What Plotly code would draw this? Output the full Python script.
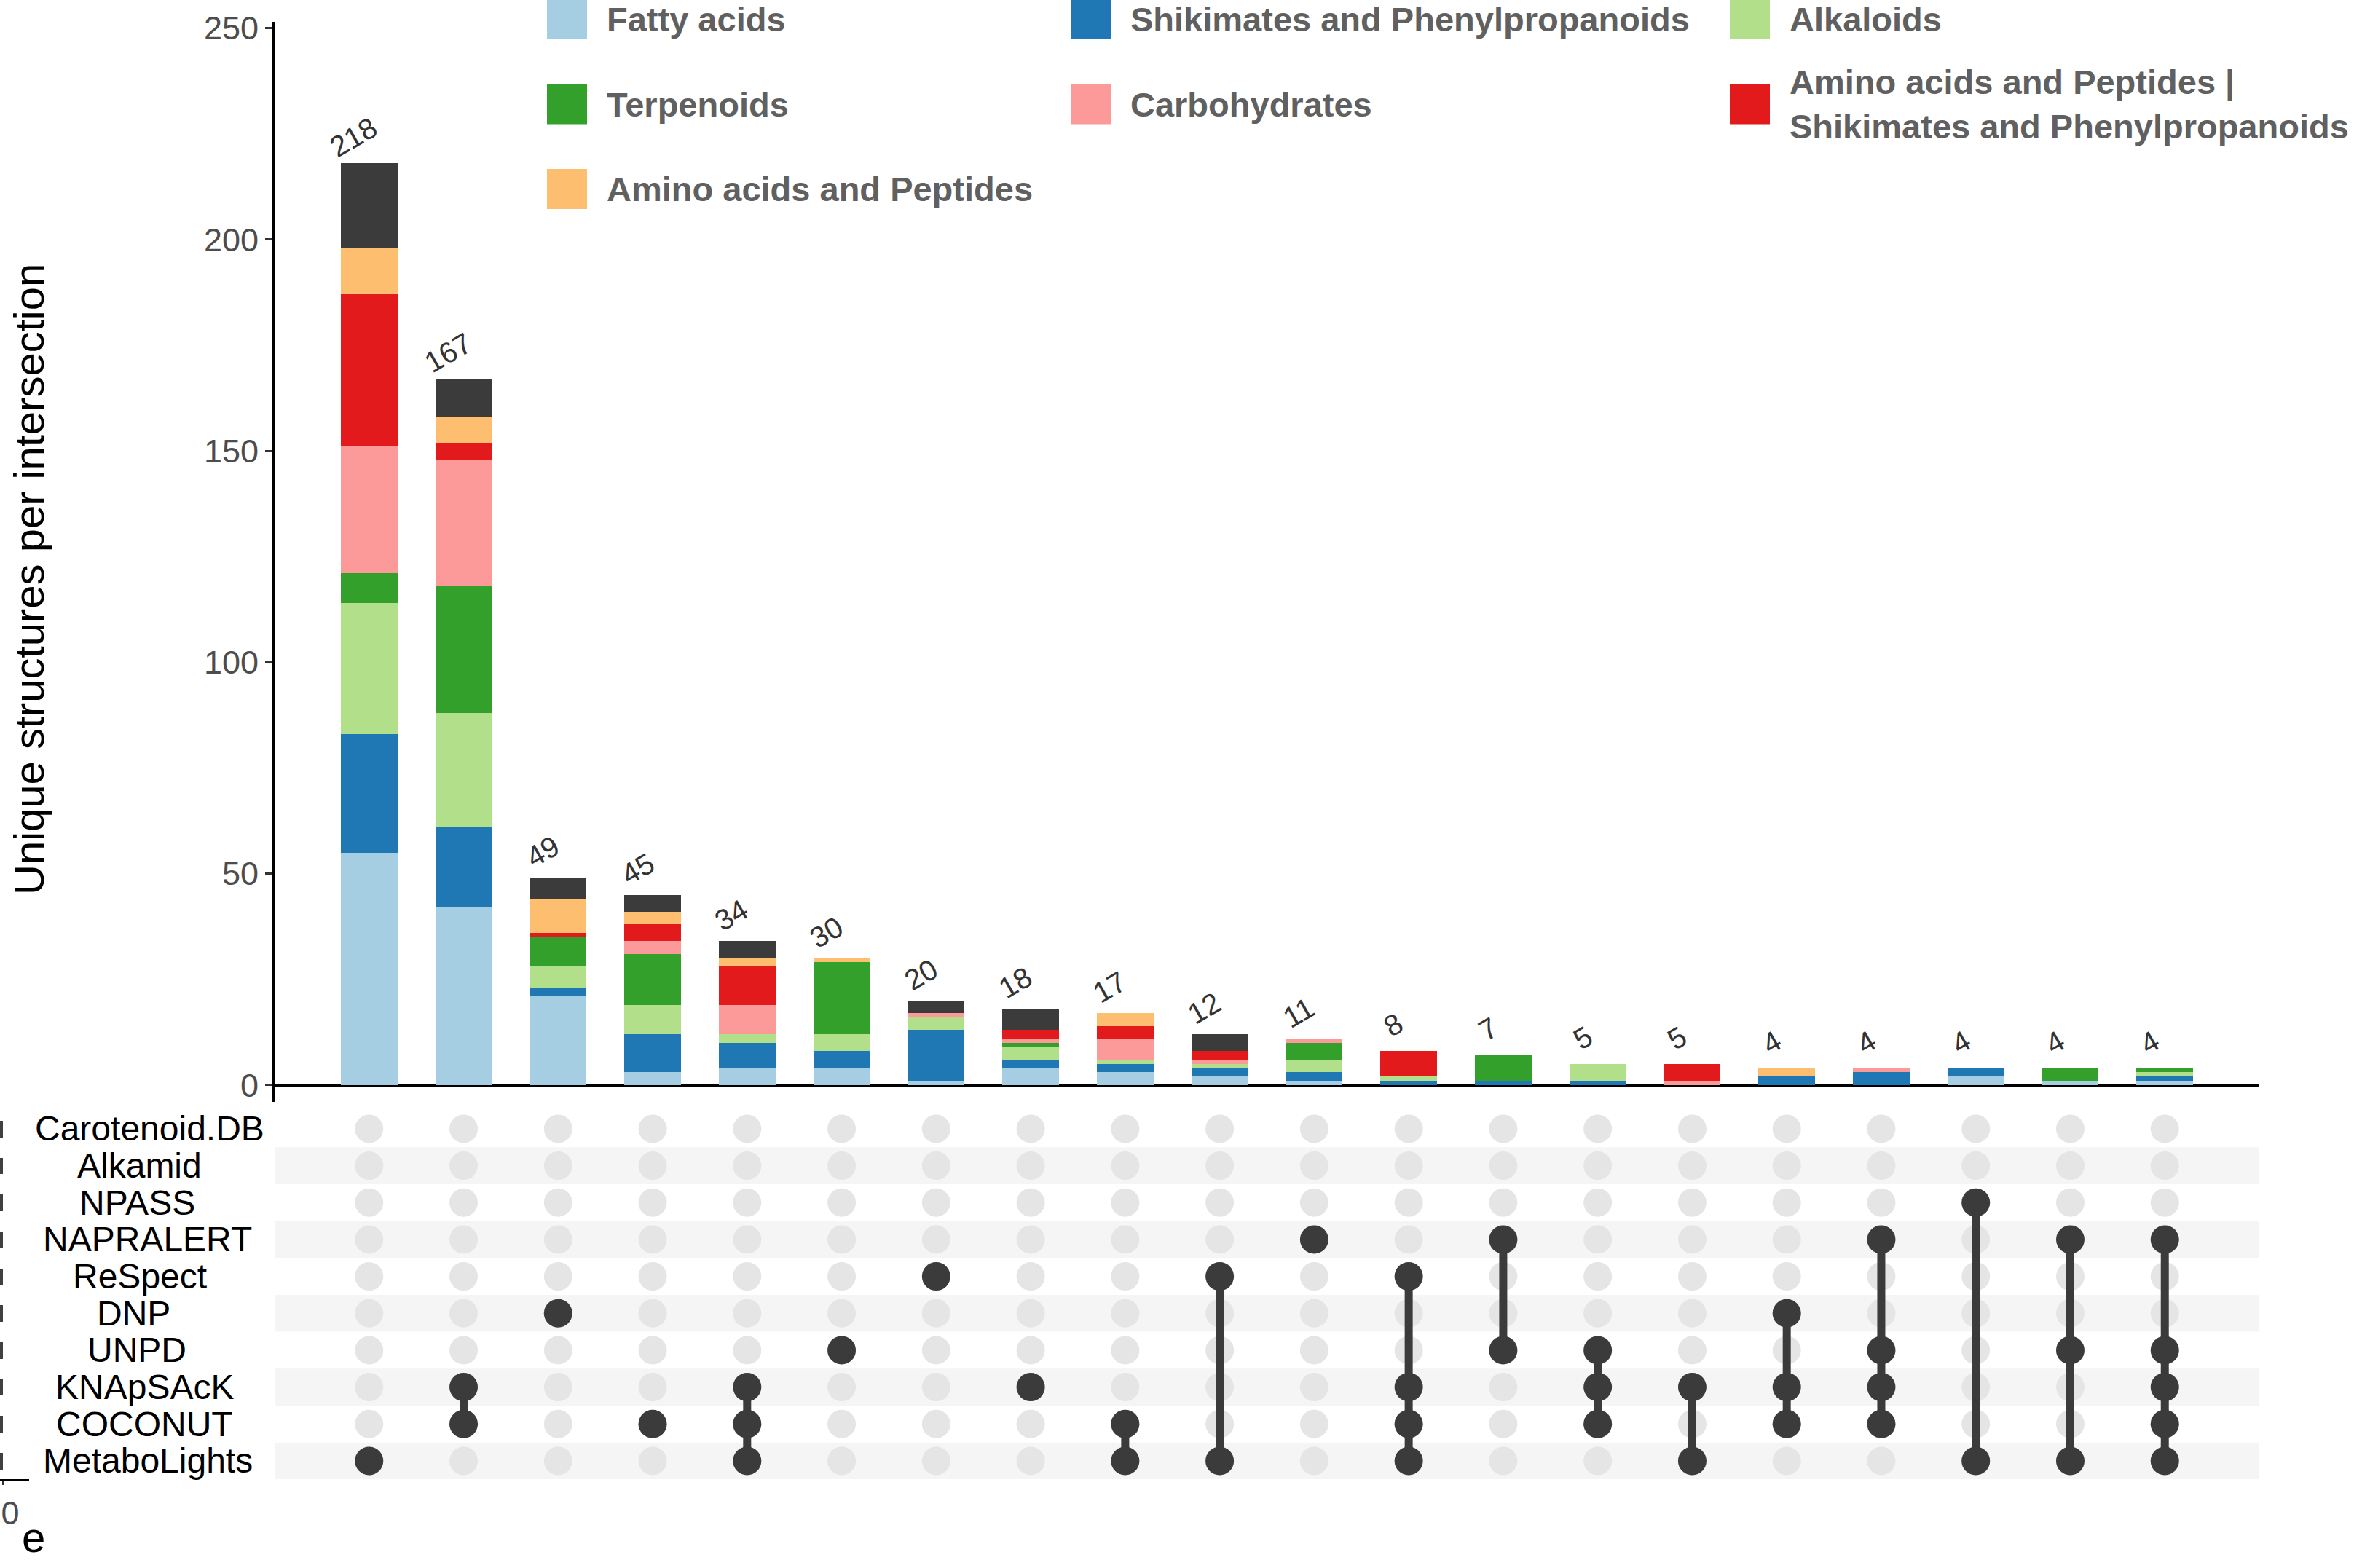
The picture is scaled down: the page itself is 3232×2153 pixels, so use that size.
import plotly.graph_objects as go

W, H = 3232, 2153

# ---------------- data ----------------
set_names = ["Carotenoid.DB", "Alkamid", "NPASS", "NAPRALERT", "ReSpect",
             "DNP", "UNPD", "KNApSAcK", "COCONUT", "MetaboLights"]

intersection_sets = [
    ["MetaboLights"],
    ["KNApSAcK", "COCONUT"],
    ["DNP"],
    ["COCONUT"],
    ["KNApSAcK", "COCONUT", "MetaboLights"],
    ["UNPD"],
    ["ReSpect"],
    ["KNApSAcK"],
    ["COCONUT", "MetaboLights"],
    ["ReSpect", "MetaboLights"],
    ["NAPRALERT"],
    ["ReSpect", "KNApSAcK", "COCONUT", "MetaboLights"],
    ["NAPRALERT", "UNPD"],
    ["UNPD", "KNApSAcK", "COCONUT"],
    ["KNApSAcK", "MetaboLights"],
    ["DNP", "KNApSAcK", "COCONUT"],
    ["NAPRALERT", "UNPD", "KNApSAcK", "COCONUT"],
    ["NPASS", "MetaboLights"],
    ["NAPRALERT", "UNPD", "MetaboLights"],
    ["NAPRALERT", "UNPD", "KNApSAcK", "COCONUT", "MetaboLights"],
]

intersection_totals = [218, 167, 49, 45, 34, 30, 20, 18, 17, 12, 11, 8, 7, 5, 5, 4, 4, 4, 4, 4]

fatty_acids   = [55, 42, 21, 3, 4, 4, 1, 4, 3, 2, 1, 0, 0, 0, 0, 0, 0, 2, 1, 1]
shikimates    = [28, 19, 2, 9, 6, 4, 12, 2, 2, 2, 2, 1, 1, 1, 0, 2, 3, 2, 0, 1]
alkaloids     = [31, 27, 5, 7, 2, 4, 3, 3, 1, 1, 3, 1, 0, 4, 0, 0, 0, 0, 0, 1]
terpenoids    = [7, 30, 7, 12, 0, 17, 0, 1, 0, 0, 4, 0, 6, 0, 0, 0, 0, 0, 3, 1]
carbohydrates = [30, 30, 0, 3, 7, 0, 1, 1, 5, 1, 1, 0, 0, 0, 1, 0, 1, 0, 0, 0]
aa_shikimates = [36, 4, 1, 4, 9, 0, 0, 2, 3, 2, 0, 6, 0, 0, 4, 0, 0, 0, 0, 0]
amino_acids   = [11, 6, 8, 3, 2, 1, 0, 0, 3, 0, 0, 0, 0, 0, 0, 2, 0, 0, 0, 0]
other         = [20, 9, 5, 4, 4, 0, 3, 5, 0, 4, 0, 0, 0, 0, 0, 0, 0, 0, 0, 0]

y_ticks = [0, 50, 100, 150, 200, 250]

# only the right-hand end of the (cropped) set-size bars is visible
set_size_visible = [1, 1, 1, 1, 1, 1, 1, 1, 1, 1]

series = [
    ("Fatty acids", fatty_acids, "#A6CEE3", True),
    ("Shikimates and Phenylpropanoids", shikimates, "#1F78B4", True),
    ("Alkaloids", alkaloids, "#B2DF8A", True),
    ("Terpenoids", terpenoids, "#33A02C", True),
    ("Carbohydrates", carbohydrates, "#FB9A99", True),
    ("Amino acids and Peptides |<br>Shikimates and Phenylpropanoids", aa_shikimates, "#E31A1C", True),
    ("Amino acids and Peptides", amino_acids, "#FDBF6F", True),
    ("Other", other, "#3B3B3B", False),
]

# ---------------- figure ----------------
FONT = "Liberation Sans, Arial, Helvetica, sans-serif"
DARK = "#3b3b3b"
cols = list(range(1, len(intersection_totals) + 1))
rows = list(range(len(set_names)))

# approximate Arial advance widths (em) to place the set labels
_AW = {"C": .722, "a": .556, "r": .333, "o": .556, "t": .278, "e": .556, "n": .556,
       "i": .222, "d": .556, ".": .278, "D": .722, "B": .667, "A": .667, "l": .222,
       "k": .5, "m": .833, "N": .722, "P": .667, "S": .667, "R": .722, "L": .556,
       "E": .667, "T": .611, "p": .556, "c": .5, "U": .722, "K": .667, "O": .778,
       "M": .833, "b": .556, "g": .556, "h": .556, "s": .5}

fig = go.Figure()

for name, vals, color, _ in series:
    fig.add_trace(go.Bar(
        x=cols, y=vals, name=name.replace("<br>", " "),
        marker=dict(color=color, line=dict(width=0)),
        width=0.6, xaxis="x", yaxis="y", showlegend=False,
    ))

# matrix: background dots
gx, gy = [], []
for c in cols:
    for r in rows:
        gx.append(c)
        gy.append(r)
fig.add_trace(go.Scatter(
    x=gx, y=gy, mode="markers", xaxis="x2", yaxis="y2",
    marker=dict(size=39, color="#e5e5e5"), showlegend=False, hoverinfo="skip",
))

# matrix: connecting lines
lx, ly = [], []
for c, members in zip(cols, intersection_sets):
    idx = [set_names.index(m) for m in members]
    if len(idx) > 1:
        lx += [c, c, None]
        ly += [min(idx), max(idx), None]
fig.add_trace(go.Scatter(
    x=lx, y=ly, mode="lines", xaxis="x2", yaxis="y2",
    line=dict(color=DARK, width=11), showlegend=False, hoverinfo="skip",
))

# matrix: active dots
dx, dy = [], []
for c, members in zip(cols, intersection_sets):
    for m in members:
        dx.append(c)
        dy.append(set_names.index(m))
fig.add_trace(go.Scatter(
    x=dx, y=dy, mode="markers", xaxis="x2", yaxis="y2",
    marker=dict(size=39, color=DARK), showlegend=False,
))

# cropped set-size bars at the far left
fig.add_trace(go.Bar(
    x=set_size_visible, y=rows, orientation="h", xaxis="x3", yaxis="y2",
    marker=dict(color="#404040", line=dict(width=0)), width=0.45,
    showlegend=False, name="Set size",
))

x_dom = [377 / W, 3102 / W]
shapes = []
annotations = []

# stripes in the matrix
for r in rows:
    if r % 2 == 1:
        shapes.append(dict(type="rect", xref="x2", yref="y2", x0=0, x1=21,
                           y0=r - 0.5, y1=r + 0.5, fillcolor="#f5f5f5",
                           line=dict(width=0), layer="below"))

# set labels (anchored ~40% into the label at x = 172 px)
LABEL_SIZE = 48
for r, name in zip(rows, set_names):
    w = sum(_AW.get(ch, 0.556) for ch in name) * LABEL_SIZE
    annotations.append(dict(x=172 / W, xref="paper", y=r, yref="y2", text=name,
                            showarrow=False, xanchor="left", xshift=-0.4 * w,
                            yanchor="middle",
                            font=dict(family=FONT, size=LABEL_SIZE, color="black")))

# totals above bars
for c, t in zip(cols, intersection_totals):
    annotations.append(dict(x=c, xref="x", y=t, yref="y", text=str(t),
                            showarrow=False, textangle=-30, xanchor="center",
                            yanchor="middle", xshift=-21, yshift=36,
                            font=dict(family=FONT, size=40, color="#333333")))

# y axis title
annotations.append(dict(x=39 / W, xref="paper", y=1 - 796 / H, yref="paper",
                        text="Unique structures per intersection", textangle=-90,
                        showarrow=False, xanchor="center", yanchor="middle",
                        font=dict(family=FONT, size=58, color="black")))

# visible tail of the cropped set-size axis title
annotations.append(dict(x=28 / W, xref="paper", y=1 - 2110 / H, yref="paper",
                        text="e", showarrow=False, xanchor="left",
                        yanchor="middle",
                        font=dict(family=FONT, size=58, color="black")))

# custom legend (3 columns)
leg_col_x = [751, 1470, 2375]
leg_row_y = [26.5, 143, 259.5]
SW = 55
legend_items = [s for s in series if s[3]]
for i, (name, _, color, _) in enumerate(legend_items):
    cx = leg_col_x[i % 3]
    cy = leg_row_y[i // 3]
    shapes.append(dict(type="rect", xref="paper", yref="paper",
                       x0=cx / W, x1=(cx + SW) / W,
                       y0=1 - (cy + SW / 2) / H, y1=1 - (cy - SW / 2) / H,
                       fillcolor=color, line=dict(width=0)))
    annotations.append(dict(x=(cx + SW + 25) / W, xref="paper", y=1 - cy / H,
                            yref="paper", text=name, showarrow=False,
                            xanchor="left", yanchor="middle", align="left",
                            font=dict(family=FONT, size=47, color="#606060",
                                      weight="bold")))

fig.update_layout(
    width=W, height=H,
    margin=dict(l=0, r=0, t=0, b=0, pad=0, autoexpand=False),
    paper_bgcolor="white", plot_bgcolor="white",
    barmode="stack", bargap=0, showlegend=False,
    font=dict(family=FONT),
    xaxis=dict(domain=x_dom, range=[0, 21], visible=False, anchor="y",
               automargin=False),
    yaxis=dict(domain=[1 - 1513 / H, 1 - 30 / H], range=[-4, 251.5],
               tickvals=y_ticks, ticks="outside", ticklen=9, tickwidth=3,
               tickcolor="#333333", showline=True, linecolor="black",
               linewidth=4, zeroline=True, zerolinecolor="black",
               zerolinewidth=4, showgrid=False, anchor="x", automargin=False,
               tickfont=dict(family=FONT, size=45, color="#4d4d4d")),
    xaxis2=dict(domain=x_dom, range=[0, 21], visible=False, anchor="y2",
                automargin=False),
    yaxis2=dict(domain=[1 - 2031.3 / H, 1 - 1524.6 / H], range=[9.5, -0.5],
                visible=False, anchor="x2", automargin=False),
    xaxis3=dict(domain=[0, 40 / W], range=[1, -9], anchor="y2",
                showline=True, linecolor="black", linewidth=2,
                tickvals=[0], ticks="outside", ticklen=6, tickwidth=2,
                tickcolor="#333333", showgrid=False, zeroline=False,
                automargin=False, ticklabelshift=-10, ticklabeloverflow="allow",
                tickfont=dict(family=FONT, size=45, color="#4d4d4d")),
    shapes=shapes,
    annotations=annotations,
)

fig.write_html("out.html", config={"displayModeBar": False},
               post_script="document.body.style.margin='0';")
